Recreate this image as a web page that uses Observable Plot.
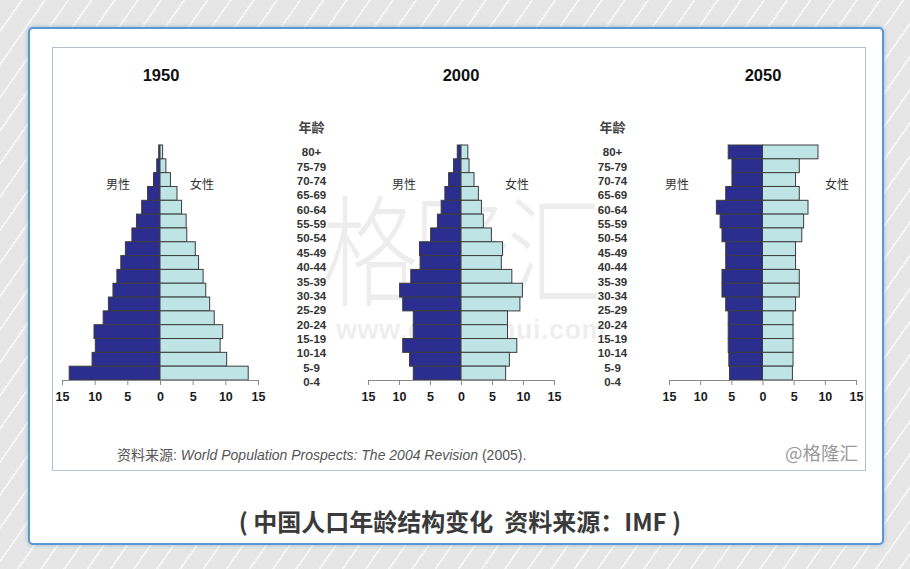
<!DOCTYPE html>
<html>
<head>
<meta charset="utf-8">
<script src="https://cdn.jsdelivr.net/npm/d3@7"></script>
<script src="https://cdn.jsdelivr.net/npm/@observablehq/plot@0.6"></script>
<style>
  html, body { margin: 0; padding: 0; }
  body {
    width: 910px; height: 569px; overflow: hidden; position: relative;
    font-family: "Liberation Sans", Arial, "Noto Sans CJK SC", sans-serif;
    background-color: #e9e9e9;
    background-image: repeating-linear-gradient(125deg, #e6e6e6 0px, #e6e6e6 17px, #f5f5f5 17px, #f5f5f5 19px);
  }
  .abs { position: absolute; }
  #panel {
    left: 28px; top: 27px; width: 852px; height: 514px;
    background: #fff; border: 2px solid #5b97d1; border-radius: 5px;
    box-shadow: 0 0 4px rgba(80,130,190,0.5);
  }
  #inner {
    left: 52px; top: 47px; width: 812px; height: 422px;
    border: 1.5px solid #b2c0d0; background: #fff;
  }
  .title { font-weight: bold; font-size: 16.5px; color: #111; transform: translate(-50%, -50%); white-space: nowrap; }
  .sex { font-size: 12px; color: #333; transform: translate(-50%, -50%); white-space: nowrap; font-family: "Noto Sans CJK SC", sans-serif; line-height: 14px; }
  #source { left: 117px; top: 447px; font-size: 14px; color: #555; white-space: nowrap; line-height: 16px; }
  #source i { font-style: italic; }
  #wm { left: 785px; top: 441px; font-size: 18.5px; color: #9a9a9a; font-family: "Noto Sans CJK SC", sans-serif; white-space: nowrap; line-height: 22px; }
  #caption { left: 460px; top: 520px; transform: translate(-50%, -50%); font-size: 24px; font-weight: bold; color: #3a3a3a; white-space: nowrap; font-family: "Noto Sans CJK SC", sans-serif; }
  .bigwm { color: rgba(150,150,150,0.17); white-space: nowrap; pointer-events: none; font-family: "Noto Sans CJK SC", sans-serif; }
  svg { overflow: visible; }
</style>
</head>
<body>
<div id="panel" class="abs"></div>
<div id="inner" class="abs"></div>
<div class="abs bigwm" style="left:322px; top:196px; font-size:96px; line-height:80px; letter-spacing:-4px; transform:scaleY(1.25); transform-origin:top left; font-weight:300;">格隆汇</div>
<div class="abs bigwm" style="left:336px; top:316px; font-size:27px; line-height:28px; font-weight:bold; font-family:'Liberation Sans',Arial,sans-serif; letter-spacing:0.5px;">www.gelonghui.com</div>
<div id="charts"></div>
<script>
// ---- data ----
const ages = ["80+","75-79","70-74","65-69","60-64","55-59","50-54","45-49","40-44","35-39","30-34","25-29","20-24","15-19","10-14","5-9","0-4"];
const years = ["1950", "2000", "2050"];
const male1950   = [0.2,0.5,1.0,1.9,2.8,3.6,4.3,5.3,6.0,6.6,7.2,7.9,8.7,10.1,9.9,10.4,13.9];
const female1950 = [0.4,0.9,1.6,2.6,3.3,4.0,4.1,5.4,5.9,6.6,7.0,7.6,8.3,9.6,9.2,10.2,13.5];
const male2000   = [0.6,1.2,2.0,2.6,3.2,3.8,4.9,6.7,6.6,8.1,9.9,9.4,7.7,7.7,9.4,8.3,7.7];
const female2000 = [1.1,1.3,2.1,2.8,3.3,3.6,4.9,6.7,6.5,8.2,9.9,9.5,7.5,7.5,9.0,7.8,7.2];
const male2050   = [5.5,4.9,4.9,5.9,7.4,6.8,6.5,5.9,5.9,6.5,6.5,5.9,5.5,5.5,5.5,5.4,5.3];
const female2050 = [8.9,5.9,5.3,5.9,7.3,6.6,6.3,5.3,5.3,5.9,5.9,5.3,4.9,4.9,4.9,4.9,4.8];
const xTicks = [-15,-10,-5,0,5,10,15];
const sexes = ["男性", "女性"];
const ageHeader = "年龄";

const navy = "#2b2e8e";
const cyan = "#bfe4e6";
const charts = document.getElementById("charts");

function place(el, left, top) {
  el.style.position = "absolute";
  el.style.left = left + "px";
  el.style.top = top + "px";
  charts.appendChild(el);
}
function label(text, cls, x, y) {
  const d = document.createElement("div");
  d.className = "abs " + cls;
  d.textContent = text;
  d.style.left = x + "px"; d.style.top = y + "px";
  document.body.appendChild(d);
}

function pyramid(male, female, plotWidth) {
  const rows = ages.flatMap((a, i) => [
    {age: a, sex: sexes[0], v: -male[i]},
    {age: a, sex: sexes[1], v: female[i]}
  ]);
  return Plot.plot({
    width: 10 + plotWidth + 10, height: 310,
    marginLeft: 10, marginRight: 10, marginTop: 45, marginBottom: 30,
    x: {domain: [-15, 15]},
    y: {domain: ages, padding: 0, round: false, axis: null},
    color: {domain: sexes, range: [navy, cyan]},
    style: {fontFamily: "'Liberation Sans', Arial, sans-serif", fontSize: "12px", background: "transparent", overflow: "visible"},
    marks: [
      Plot.barX(rows, {x1: 0, x2: "v", y: "age", fill: "sex", stroke: "#3c3c3c", strokeWidth: 1, inset: 0}),
      Plot.frame({anchor: "bottom", stroke: "#8a8a8a", strokeWidth: 1.2}),
      Plot.axisX({ticks: xTicks, tickFormat: d => Math.abs(d), tickSize: 5, tickPadding: 7,
                  stroke: "#8a8a8a", fill: "#1a1a1a", fontWeight: "bold", fontSize: 12.5, label: null})
    ]
  });
}

function ageColumn() {
  return Plot.plot({
    width: 70, height: 300,
    marginLeft: 0, marginRight: 0, marginTop: 44.8, marginBottom: 10.8,
    x: {axis: null},
    y: {type: "point", domain: ages, padding: 0.5, round: false, axis: null},
    style: {fontFamily: "'Liberation Sans', Arial, sans-serif", background: "transparent", overflow: "visible"},
    marks: [
      Plot.text(ages, {y: d => d, text: d => d, frameAnchor: "middle", fontWeight: "bold", fontSize: 11.5, fill: "#333"}),
      Plot.text([ageHeader], {frameAnchor: "top", lineAnchor: "middle", dy: -17, text: d => d,
                              fontWeight: "bold", fontSize: 13, fill: "#444", fontFamily: "'Noto Sans CJK SC', sans-serif"})
    ]
  });
}

place(pyramid(male1950, female1950, 196), 52, 100);
place(pyramid(male2000, female2000, 186), 358, 100);
place(pyramid(male2050, female2050, 187), 659, 100);
place(ageColumn(), 276, 100);
place(ageColumn(), 577, 100);

label(years[0], "title", 161, 75);
label(years[1], "title", 461, 75);
label(years[2], "title", 763, 75);

label(sexes[0], "sex", 118, 184); label(sexes[1], "sex", 202, 184);
label(sexes[0], "sex", 404, 184); label(sexes[1], "sex", 517, 184);
label(sexes[0], "sex", 677, 184); label(sexes[1], "sex", 837, 184);
</script>
<div id="source" class="abs">资料来源: <i>World Population Prospects: The 2004 Revision</i> (2005).</div>
<div id="wm" class="abs">@格隆汇</div>
<div id="caption" class="abs">( 中国人口年龄结构变化&nbsp;&nbsp;资料来源：IMF )</div>
</body>
</html>
